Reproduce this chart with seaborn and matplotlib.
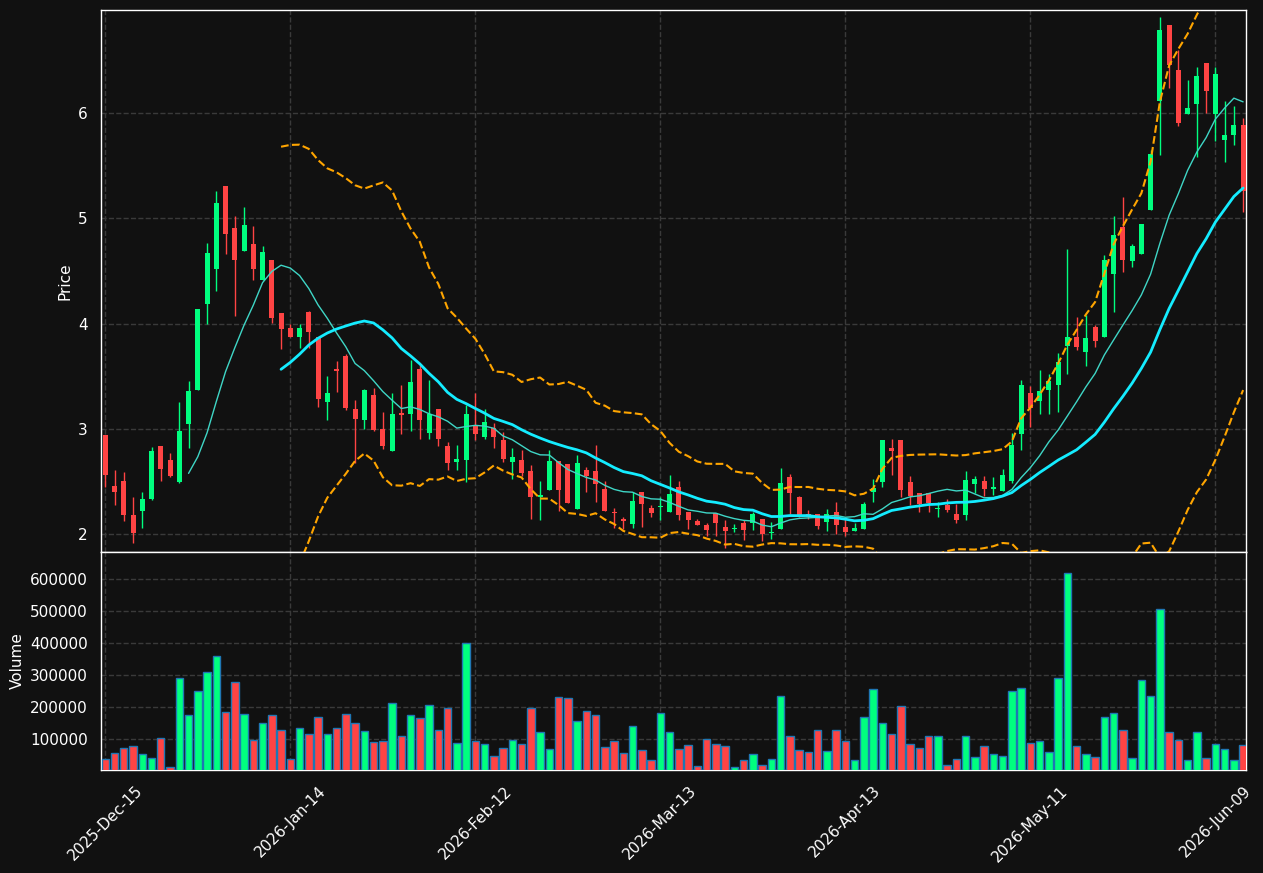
import numpy as np
import pandas as pd
import matplotlib.pyplot as plt
import matplotlib.ticker as mticker
import seaborn as sns

# daily OHLC, one entry per trading day
opens = [2.94, 2.46, 2.51, 2.18, 2.22, 2.34, 2.84, 2.71, 2.50, 3.05,
         3.37, 4.19, 4.52, 5.31, 4.91, 4.69, 4.76, 4.42, 4.61, 4.10,
         3.96, 3.87, 4.11, 3.87, 3.26, 3.57, 3.69, 3.19, 3.09, 3.32,
         3.00, 2.79, 3.15, 3.14, 3.57, 2.96, 3.19, 2.84, 2.69, 2.71,
         3.04, 2.92, 3.01, 2.90, 2.69, 2.71, 2.60, 2.35, 2.42, 2.70,
         2.67, 2.24, 2.61, 2.60, 2.43, 2.21, 2.15, 2.10, 2.40, 2.25,
         2.257, 2.21, 2.45, 2.21, 2.13, 2.09, 2.20, 2.07, 2.05, 2.11,
         2.11, 2.15, 2.01, 2.05, 2.54, 2.35, 2.19, 2.19, 2.12, 2.21,
         2.07, 2.03, 2.05, 2.40, 2.50, 2.82, 2.90, 2.50, 2.39, 2.39,
         2.24, 2.28, 2.19, 2.18, 2.48, 2.51, 2.43, 2.41, 2.51, 2.95,
         3.34, 3.27, 3.37, 3.42, 3.79, 3.87, 3.73, 3.97, 3.87, 4.47,
         4.92, 4.60, 4.66, 5.08, 6.12, 6.84, 6.41, 5.99, 6.09, 6.48,
         5.99, 5.75, 5.79, 5.89]
highs = [2.94, 2.61, 2.59, 2.35, 2.40, 2.83, 2.84, 2.77, 3.26, 3.46,
         4.14, 4.77, 5.26, 5.31, 5.02, 5.11, 4.93, 4.74, 4.61, 4.10,
         4.00, 4.00, 4.12, 3.87, 3.50, 3.65, 3.71, 3.28, 3.38, 3.39,
         3.16, 3.34, 3.42, 3.66, 3.61, 3.47, 3.19, 2.88, 2.85, 3.23,
         3.34, 3.19, 3.06, 2.97, 2.82, 2.80, 2.66, 2.51, 2.80, 2.70,
         2.67, 2.75, 2.64, 2.85, 2.51, 2.25, 2.16, 2.40, 2.40, 2.28,
         2.35, 2.56, 2.51, 2.21, 2.15, 2.11, 2.20, 2.14, 2.10, 2.14,
         2.21, 2.15, 2.12, 2.63, 2.57, 2.36, 2.23, 2.19, 2.24, 2.31,
         2.15, 2.11, 2.31, 2.53, 2.90, 2.91, 2.90, 2.55, 2.39, 2.39,
         2.31, 2.34, 2.29, 2.60, 2.55, 2.55, 2.54, 2.62, 2.96, 3.47,
         3.41, 3.56, 3.52, 3.72, 4.71, 4.06, 4.08, 3.99, 4.65, 5.02,
         5.20, 4.76, 4.95, 5.65, 6.91, 6.84, 6.60, 6.32, 6.44, 6.48,
         6.44, 6.12, 6.07, 5.95]
lows = [2.45, 2.28, 2.13, 1.92, 2.06, 2.33, 2.51, 2.54, 2.49, 2.82,
        3.37, 4.00, 4.31, 4.66, 4.07, 4.69, 4.42, 4.42, 4.01, 3.76,
        3.87, 3.77, 3.77, 3.21, 3.09, 3.35, 3.18, 2.68, 3.00, 2.98,
        2.81, 2.79, 2.95, 2.98, 2.91, 2.91, 2.84, 2.61, 2.61, 2.50,
        2.90, 2.91, 2.82, 2.69, 2.53, 2.55, 2.15, 2.14, 2.42, 2.22,
        2.30, 2.24, 2.40, 2.31, 2.22, 2.06, 2.05, 2.06, 2.07, 2.16,
        2.14, 2.21, 2.14, 2.05, 2.09, 1.98, 1.98, 1.87, 2.02, 1.95,
        2.04, 1.94, 1.96, 2.05, 2.19, 2.16, 2.15, 2.05, 2.03, 2.00,
        1.98, 2.03, 2.05, 2.31, 2.45, 2.56, 2.35, 2.28, 2.21, 2.21,
        2.16, 2.21, 2.11, 2.14, 2.39, 2.36, 2.37, 2.41, 2.49, 2.80,
        3.02, 3.14, 3.14, 3.16, 3.52, 3.75, 3.60, 3.78, 3.87, 4.11,
        4.49, 4.54, 4.66, 5.08, 5.60, 6.24, 5.88, 5.99, 5.58, 6.00,
        5.74, 5.54, 5.70, 5.06]
closes = [2.56, 2.40, 2.18, 2.01, 2.34, 2.79, 2.62, 2.55, 2.98, 3.36,
          4.14, 4.67, 5.15, 4.85, 4.61, 4.94, 4.52, 4.68, 4.05, 3.95,
          3.87, 3.96, 3.92, 3.29, 3.34, 3.55, 3.20, 3.10, 3.37, 2.99,
          2.84, 3.14, 3.13, 3.45, 3.09, 3.14, 2.91, 2.68, 2.72, 3.14,
          2.95, 3.07, 2.92, 2.72, 2.73, 2.58, 2.35, 2.37, 2.70, 2.42,
          2.30, 2.68, 2.55, 2.48, 2.22, 2.20, 2.13, 2.32, 2.29, 2.20,
          2.26, 2.38, 2.18, 2.14, 2.09, 2.04, 2.11, 2.03, 2.06, 2.04,
          2.19, 2.00, 2.02, 2.49, 2.39, 2.18, 2.16, 2.08, 2.19, 2.09,
          2.02, 2.06, 2.29, 2.44, 2.90, 2.79, 2.42, 2.36, 2.29, 2.30,
          2.25, 2.23, 2.14, 2.52, 2.53, 2.43, 2.45, 2.56, 2.85, 3.42,
          3.20, 3.36, 3.46, 3.64, 3.87, 3.78, 3.86, 3.84, 4.61, 4.84,
          4.61, 4.74, 4.95, 5.61, 6.79, 6.46, 5.91, 6.05, 6.35, 6.21,
          6.37, 5.79, 5.89, 5.26]
volumes = [37500, 56000, 72000, 78000, 53000, 41000, 103000, 12500, 291000, 175000,
           250000, 309000, 359000, 184000, 278000, 178000, 98000, 150000, 175000, 129000,
           37500, 134000, 116000, 169000, 116000, 134000, 178000, 150000, 125000, 91000,
           94000, 212000, 109000, 175000, 166000, 206000, 128000, 197000, 87500, 400000,
           95000, 84000, 47000, 72000, 97000, 84000, 197000, 122000, 69000, 231000,
           228000, 156000, 188000, 175000, 75000, 94000, 56000, 141000, 66000, 34000,
           181000, 122000, 71000, 81000, 18000, 100000, 84000, 78000, 12500, 34000,
           53000, 19000, 37500, 234000, 109000, 66000, 59000, 128000, 62500, 128000,
           94000, 34000, 169000, 258000, 150000, 116000, 203000, 84000, 72000, 109000,
           109000, 21000, 37500, 109000, 44000, 78000, 53000, 47000, 250000, 259000,
           87500, 94000, 59000, 291000, 619000, 78000, 53000, 44000, 169000, 181000,
           128000, 41000, 284000, 234000, 506000, 122000, 97000, 34000, 122000, 41000,
           84000, 69000, 34000, 81000]

tick_labels = ["2025-Dec-15", "2026-Jan-14", "2026-Feb-12", "2026-Mar-13",
               "2026-Apr-13", "2026-May-11", "2026-Jun-09"]

BG = "#111111"
UP = "#00ff7f"
DOWN = "#ff4444"
GRID = "#3a3a3a"


def build_frame():
    df = pd.DataFrame({"open": opens, "high": highs, "low": lows,
                       "close": closes, "volume": volumes})
    df["x"] = np.arange(len(df))
    df["ma10"] = df["close"].rolling(10).mean()
    df["ma20"] = df["close"].rolling(20).mean()
    std = df["close"].rolling(20).std(ddof=0)
    df["upper"] = df["ma20"] + 2 * std
    df["lower"] = df["ma20"] - 2 * std
    return df


def style_axis(ax):
    ax.set_facecolor(BG)
    for side in ax.spines.values():
        side.set_color("white")
        side.set_linewidth(1)
    ax.grid(True, linestyle="--", color=GRID, linewidth=1)
    ax.tick_params(colors="white", labelsize=11)


def plot_chart(df):
    fig = plt.figure(figsize=(12.63, 8.73), dpi=100, facecolor=BG)
    ax = fig.add_axes([0.080, 0.3677, 0.9066, 0.6208])
    axv = fig.add_axes([0.080, 0.118, 0.9066, 0.2497], sharex=ax)
    style_axis(ax)
    style_axis(axv)

    up = df["close"] >= df["open"]
    colors = np.where(up, UP, DOWN)

    # candles
    ax.vlines(df["x"], df["low"], df["high"], colors=colors, linewidth=1, zorder=2)
    body = (df["close"] - df["open"]).abs().clip(lower=0.012)
    bottom = df[["open", "close"]].min(axis=1)
    ax.bar(df["x"], body, bottom=bottom, width=0.55, color=colors, linewidth=0, zorder=3)

    # moving averages and bands
    sns.lineplot(data=df, x="x", y="ma10", ax=ax, color="#3fd6c6", linewidth=1, zorder=4)
    sns.lineplot(data=df, x="x", y="ma20", ax=ax, color="#14ecff", linewidth=2, zorder=4)
    for col in ["upper", "lower"]:
        sns.lineplot(data=df, x="x", y=col, ax=ax, color="orange",
                     linewidth=1.5, linestyle="--", zorder=4)

    ax.set_ylim(1.832, 6.98)
    ax.set_xlim(-0.46, 123.32)
    ax.set_ylabel("Price", color="white", fontsize=11)
    ax.set_xlabel("")
    ax.tick_params(axis="x", length=0, labelbottom=False)

    # volume
    axv.bar(df["x"], df["volume"], width=0.8, color=colors,
            edgecolor="#1f77b4", linewidth=1, zorder=3)
    axv.set_ylim(4000, 685000)
    axv.set_yticks([100000, 200000, 300000, 400000, 500000, 600000])
    axv.yaxis.set_major_formatter(mticker.FuncFormatter(lambda v, p: f"{int(v)}"))
    axv.set_ylabel("Volume", color="white", fontsize=11)
    axv.set_xticks(np.arange(0, len(df), 20))
    axv.set_xticklabels(tick_labels, rotation=45, ha="center")
    axv.set_xlabel("")

    fig.savefig("out.png", dpi=100, facecolor=BG)
    plt.close(fig)


def main():
    sns.set_theme(style="dark")
    plt.rcParams["font.family"] = ["DejaVu Sans"]
    df = build_frame()
    plot_chart(df)


if __name__ == "__main__":
    main()
